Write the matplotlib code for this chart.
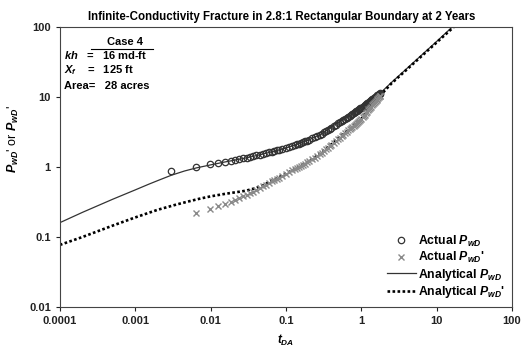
import matplotlib
matplotlib.use("Agg")
import matplotlib.pyplot as plt
from matplotlib.lines import Line2D

plt.rcParams['font.family'] = ['Liberation Sans', 'DejaVu Sans']
plt.rcParams['font.weight'] = 'bold'
plt.rcParams['mathtext.fontset'] = 'custom'
plt.rcParams['mathtext.rm'] = 'Liberation Sans:bold'
plt.rcParams['mathtext.it'] = 'Liberation Sans:italic:bold'
plt.rcParams['mathtext.bf'] = 'Liberation Sans:bold'

# analytical PwD (thin solid)
t_ana = [1e-4, 2e-4, 5e-4, 1e-3, 1.5e-3, 2e-3, 3e-3, 4.5e-3, 6.5e-3, 0.01, 0.015,
         0.02, 0.03, 0.045, 0.07, 0.1, 0.15, 0.2, 0.3, 0.5, 0.7, 1.0, 1.4, 1.78,
         2.5, 5, 10, 20]
pwd_ana = [0.16, 0.225, 0.345, 0.47, 0.565, 0.64, 0.76, 0.875, 0.97, 1.07, 1.17,
           1.24, 1.35, 1.49, 1.68, 1.86, 2.15, 2.43, 2.99, 4.38, 5.37, 7.03, 9.2, 11.3,
           16, 31.5, 62, 124]
# analytical PwD' (dotted)
t_der = [1e-4, 2e-4, 5e-4, 1e-3, 2e-3, 3.5e-3, 5e-3, 7e-3, 0.01, 0.015, 0.02,
         0.025, 0.03, 0.04, 0.05, 0.07, 0.1, 0.15, 0.2, 0.3, 0.5, 0.7, 1.0,
         1.4, 1.78, 2.5, 5, 10, 20]
pwdd_ana = [0.077, 0.1, 0.145, 0.19, 0.245, 0.29, 0.32, 0.35, 0.38, 0.41, 0.43,
            0.445, 0.46, 0.5, 0.55, 0.66, 0.8, 1.0, 1.2, 1.6, 2.6, 3.45, 4.85,
            7.6, 10.45, 15.5, 30.5, 60, 118]

# actual data (circles: PwD, crosses: PwD')
t_act = [0.003, 0.0065, 0.0098, 0.0126, 0.0155, 0.0185, 0.021, 0.024, 0.027, 0.03,
         0.033, 0.036, 0.04, 0.045, 0.05, 0.055, 0.06, 0.065, 0.07, 0.075,
         0.08, 0.09, 0.1, 0.11, 0.12, 0.13, 0.14, 0.15, 0.16, 0.17,
         0.18, 0.19, 0.2, 0.22, 0.24, 0.26, 0.28, 0.3, 0.32, 0.34,
         0.36, 0.38, 0.4, 0.43, 0.46, 0.49, 0.52, 0.55, 0.58, 0.61,
         0.64, 0.67, 0.7, 0.73, 0.76, 0.79, 0.82, 0.85, 0.88, 0.91,
         0.94, 0.97, 1.0, 1.04, 1.08, 1.12, 1.16, 1.2, 1.24, 1.28,
         1.32, 1.36, 1.4, 1.44, 1.48, 1.52, 1.56, 1.6, 1.64, 1.68,
         1.72, 1.76, 1.78]
pwd_act = [0.87, 1.01, 1.09, 1.15, 1.19, 1.23, 1.26, 1.3, 1.33, 1.36,
           1.39, 1.42, 1.46, 1.5, 1.54, 1.58, 1.62, 1.65, 1.69, 1.72,
           1.75, 1.81, 1.87, 1.93, 1.99, 2.05, 2.1, 2.16, 2.22, 2.27,
           2.33, 2.38, 2.44, 2.55, 2.66, 2.77, 2.88, 3.0, 3.13, 3.26,
           3.39, 3.52, 3.65, 3.84, 4.03, 4.22, 4.4, 4.56, 4.72, 4.88,
           5.04, 5.2, 5.38, 5.55, 5.72, 5.89, 6.06, 6.23, 6.4, 6.56,
           6.72, 6.88, 7.04, 7.25, 7.46, 7.67, 7.88, 8.1, 8.32, 8.54,
           8.76, 8.98, 9.2, 9.42, 9.64, 9.86, 10.08, 10.3, 10.52, 10.74,
           10.96, 11.18, 11.3]
t_actd = t_act[1:]
pwdd_act = [0.22, 0.25, 0.28, 0.3, 0.32, 0.34, 0.36, 0.38, 0.4,
            0.42, 0.44, 0.47, 0.5, 0.53, 0.56, 0.59, 0.62, 0.65, 0.67,
            0.7, 0.75, 0.8, 0.85, 0.89, 0.93, 0.97, 1.0, 1.04, 1.08,
            1.12, 1.16, 1.2, 1.28, 1.36, 1.44, 1.52, 1.6, 1.69, 1.78,
            1.87, 1.96, 2.05, 2.19, 2.33, 2.47, 2.62, 2.76, 2.9, 3.04,
            3.18, 3.32, 3.46, 3.6, 3.74, 3.88, 4.02, 4.16, 4.3, 4.44,
            4.58, 4.72, 4.86, 5.1, 5.35, 5.6, 5.87, 6.14, 6.42, 6.71,
            7.0, 7.3, 7.6, 7.9, 8.2, 8.5, 8.8, 9.1, 9.4, 9.7,
            10.0, 10.3, 10.45]

fig = plt.figure(figsize=(5.3, 3.5), dpi=100)
ax = fig.add_axes([0.113, 0.123, 0.853, 0.8])

ax.plot(t_act, pwd_act, 'o', mfc='none', mec='#333333', ms=4.6, mew=0.9,
        label=r'Actual $P_{wD}$', zorder=3)
ax.plot(t_actd, pwdd_act, 'x', color='#8a8a8a', ms=5, mew=1.0,
        label=r"Actual $P_{wD}$'", zorder=3)
ax.plot(t_ana, pwd_ana, '-', color='#333333', lw=0.9,
        label=r'Analytical $P_{wD}$', zorder=2)
ax.plot(t_der, pwdd_ana, color='black', lw=1.9, linestyle=(0, (1, 0.9)),
        label=r"Analytical $P_{wD}$'", zorder=2)

ax.set_xscale('log')
ax.set_yscale('log')
ax.set_xlim(1e-4, 100)
ax.set_ylim(0.01, 100)
ax.set_xticks([1e-4, 1e-3, 1e-2, 0.1, 1, 10, 100])
ax.set_xticklabels(['0.0001', '0.001', '0.01', '0.1', '1', '10', '100'])
ax.set_yticks([0.01, 0.1, 1, 10, 100])
ax.set_yticklabels(['0.01', '0.1', '1', '10', '100'])
ax.minorticks_off()
ax.tick_params(labelsize=8, length=3, width=0.8, colors='#222222')
for s in ax.spines.values():
    s.set_linewidth(0.8)
    s.set_color('#444444')

ax.set_title('Infinite-Conductivity Fracture in 2.8:1 Rectangular Boundary at 2 Years',
             fontsize=8.3, fontweight='bold', pad=5, x=0.49)
ax.set_ylabel(r"$P_{wD}$' or $P_{wD}$'", fontsize=9, labelpad=3)
ax.yaxis.set_label_coords(-0.085, 0.6)
ax.set_xlabel(r'$t_{DA}$', fontsize=8.5, labelpad=5)

# case box
ax.text(0.144, 0.948, 'Case 4', transform=ax.transAxes, fontsize=8,
        ha='center', va='center')
ax.add_line(Line2D([0.068, 0.207], [0.922, 0.922], transform=ax.transAxes,
                   color='black', lw=0.8))
ax.text(0.01, 0.9, r'$kh$   =   16 md-ft', transform=ax.transAxes,
        fontsize=8, va='center')
ax.text(0.01, 0.846, r'$X_f$    =   125 ft', transform=ax.transAxes,
        fontsize=8, va='center')
ax.text(0.01, 0.789, 'Area=   28 acres', transform=ax.transAxes,
        fontsize=8, va='center')

leg = ax.legend(loc='lower right', frameon=False, fontsize=8.8,
                handlelength=2.4, handletextpad=0.2, labelspacing=0.12,
                borderaxespad=0.15)

fig.savefig('out.png', dpi=100)
